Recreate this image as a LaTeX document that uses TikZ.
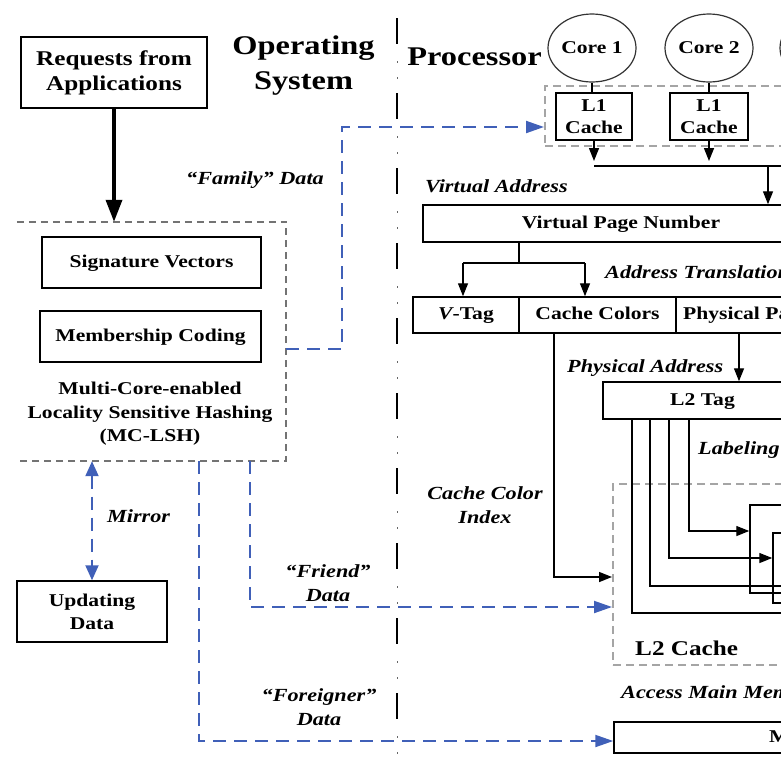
\documentclass[tikz,border=0pt]{standalone}
\usepackage{fontspec}
\setmainfont{Liberation Serif}[FakeStretch=1.2]
\usetikzlibrary{arrows.meta,shapes.geometric}
\definecolor{lineblue}{RGB}{64,96,184}
\definecolor{dgray}{RGB}{165,165,165}
\newcommand\fsz[2]{\fontsize{#1}{#2}\selectfont}
\begin{document}
\begin{tikzpicture}[x=1pt,y=-1pt,
  box/.style={draw,line width=1.5pt,inner sep=0pt,align=center,font=\fsz{18}{23}\bfseries},
  onel/.style={text height=13pt,text depth=4pt},
  lbl/.style={inner sep=0pt,font=\fsz{18.5}{24}\bfseries\itshape,align=center},
  arr/.style={line width=1.4pt,-{Triangle[length=13pt,width=10pt]}},
  ln/.style={line width=1.4pt},
  bdash/.style={lineblue,line width=2pt,dash pattern=on 13pt off 8pt},
  barr/.style={bdash,-{Triangle[length=18pt,width=12pt]}},
  gbox/.style={draw=dgray,line width=2pt,dash pattern=on 8pt off 5pt,inner sep=0pt},
  core/.style={ellipse,draw=black!80,line width=1.2pt,minimum width=88pt,minimum height=68pt,inner sep=0pt,font=\fsz{18}{22}\bfseries},
]
\useasboundingbox (0,0) rectangle (781,756);
\clip (0,0) rectangle (781,756);

% separator line
\draw[line width=2.6pt,dash pattern=on 26pt off 49pt] (397,18) -- (397,760);
\draw[line width=1pt,black!60,dash pattern=on 1.5pt off 14.5pt on 1.5pt off 57.5pt] (397,61) -- (397,760);

% titles
\node[font=\fsz{27}{35}\bfseries,align=center,inner sep=0pt] (os) at (303.5,66) {Operating\\System};
\node[font=\fsz{27}{35}\bfseries,anchor=base,inner sep=0pt] (proc) at (474.5,65) {Processor};

% operating system side
\node[box,font=\fsz{21}{25}\bfseries,minimum width=186pt,minimum height=71pt] (req) at (114,72.5) {Requests from\\Applications};
\node[minimum width=269pt,minimum height=239pt,inner sep=0pt] (mc) at (151.5,341.5) {};
\draw[black!55,line width=1.5pt,dash pattern=on 7pt off 5pt] (mc.north west) -- (mc.north east) -- (mc.south east) -- (mc.south west);
\node[box,onel,minimum width=219pt,minimum height=51pt] (sig) at (151.5,262.5) {Signature Vectors};
\node[box,onel,minimum width=221pt,minimum height=51pt] (mem) at (150.5,336.5) {Membership Coding};
\node[font=\fsz{18}{23.5}\bfseries,align=center,inner sep=0pt] (mctext) at (150,414) {Multi-Core-enabled\\Locality Sensitive Hashing\\(MC-LSH)};
\draw[line width=3.5pt,-{Triangle[length=22pt,width=16pt]}] (req.south) -- (req.south |- mc.north);

\node[box,minimum width=150pt,minimum height=61pt] (upd) at (92,611.5) {Updating\\Data};
\draw[bdash,{Triangle[length=15pt,width=13pt]}-{Triangle[length=15pt,width=13pt]}] (mc.south -| upd.north) -- (upd.north);
\node[lbl,anchor=base west] (mir) at (107,522) {Mirror};

% processor side
\node[core] (c1) at (592,48) {Core 1};
\node[core] (c2) at (709,48) {Core 2};
\node[core] (c3) at (824,48) {};
\node[gbox,minimum width=355pt,minimum height=60pt] (l1g) at (722.5,116) {};
\node[box,minimum width=76pt,minimum height=47pt,font=\fsz{18}{22}\bfseries] (l1a) at (594,116.5) {L1\\Cache};
\node[box,minimum width=78pt,minimum height=47pt,font=\fsz{18}{22}\bfseries] (l1b) at (709,116.5) {L1\\Cache};
\draw[ln] (c1.south) -- (c1.south |- l1a.north);
\draw[ln] (c2.south) -- (l1b.north);

\coordinate (bl) at (594,166);
\coordinate (br) at (800,166);
\coordinate (t1) at (594,161);
\coordinate (t2) at (709,161);
\coordinate (bv) at (768,166);
\draw[ln] (bl) -- (br);
\draw[arr] (l1a.south) -- (t1);
\draw[arr] (l1b.south) -- (t2);

\node[box,onel,minimum width=396pt,minimum height=37pt] (vpn) at (621,223.5) {Virtual Page Number};
\draw[arr] (bv) -- (bv |- vpn.north);
\node[lbl,anchor=base west] (va) at (425,192) {Virtual Address};

\node[box,onel,minimum width=106pt,minimum height=36pt] (vt) at (466,315) {{\itshape V}-Tag};
\node[box,onel,minimum width=157pt,minimum height=36pt] (cc) at (597.5,315) {Cache Colors};
\node[box,onel,minimum width=223pt,minimum height=36pt] (pp) at (787.5,315) {Physical Page Number};

\coordinate (s0) at (519,263);
\coordinate (sa) at (463,263);
\coordinate (sb) at (585,263);
\draw[ln] (vpn.south -| s0) -- (s0);
\draw[ln] (sa) -- (sb);
\draw[arr] (sa) -- (sa |- vt.north);
\draw[arr] (sb) -- (sb |- cc.north);
\node[lbl,anchor=base west] (at) at (605,278) {Address Translation};

\node[gbox,minimum width=287pt,minimum height=181pt] (l2g) at (756.5,574.5) {};
\node[font=\fsz{21}{25}\bfseries,anchor=base west,inner sep=0pt] (l2c) at (635,655) {L2 Cache};

\coordinate (ci) at (554,577);
\draw[arr] (cc.south -| ci) -- (ci) -- (ci -| l2g.west);
\node[lbl] (cci) at (485,505) {Cache Color\\Index};

\node[box,onel,minimum width=199pt,minimum height=37pt] (l2t) at (702.5,400.5) {L2 Tag};
\coordinate (pa) at (739,0);
\draw[arr] (pp.south -| pa) -- (pa |- l2t.north);
\node[lbl,anchor=base west] (pad) at (567,372) {Physical Address};
\node[lbl,anchor=base west] (lab) at (698,454) {Labeling};

\node[draw,line width=1.5pt,minimum width=80pt,minimum height=88pt,inner sep=0pt] (w1) at (790,549) {};
\node[draw,line width=1.5pt,minimum width=80pt,minimum height=70pt,inner sep=0pt] (w2) at (813,568) {};
\coordinate (k4) at (689,531);
\coordinate (k3) at (669,558);
\coordinate (k2) at (650,586);
\coordinate (k1) at (632,613);
\draw[arr] (l2t.south -| k4) -- (k4) -- (k4 -| w1.west);
\draw[arr] (l2t.south -| k3) -- (k3) -- (k3 -| w2.west);
\draw[ln] (l2t.south -| k2) -- (k2) -- (k2 -| br);
\draw[ln] (l2t.south -| k1) -- (k1) -- (k1 -| br);

\node[lbl,anchor=base west] (amm) at (621,698) {Access Main Memory};
\node[box,onel,minimum width=444pt,minimum height=31pt] (mm) at (836,737.5) {Main Memory};

% data flows
\coordinate (f1) at (342,349);
\coordinate (f2) at (342,127);
\draw[barr] (mc.east |- f1) -- (f1) -- (f2) -- (f2 -| l1g.west);
\node[lbl,anchor=base] (fam) at (255,184) {“Family” Data};

\coordinate (r1) at (250,607);
\draw[barr] (mc.south -| r1) -- (r1) -- (r1 -| l2g.west);
\node[lbl] (fri) at (328,583) {“Friend”\\Data};

\coordinate (g1) at (199,741);
\draw[barr] (mc.south -| g1) -- (g1) -- (g1 -| mm.west);
\node[lbl] (for) at (319,707) {“Foreigner”\\Data};
\end{tikzpicture}
\end{document}
